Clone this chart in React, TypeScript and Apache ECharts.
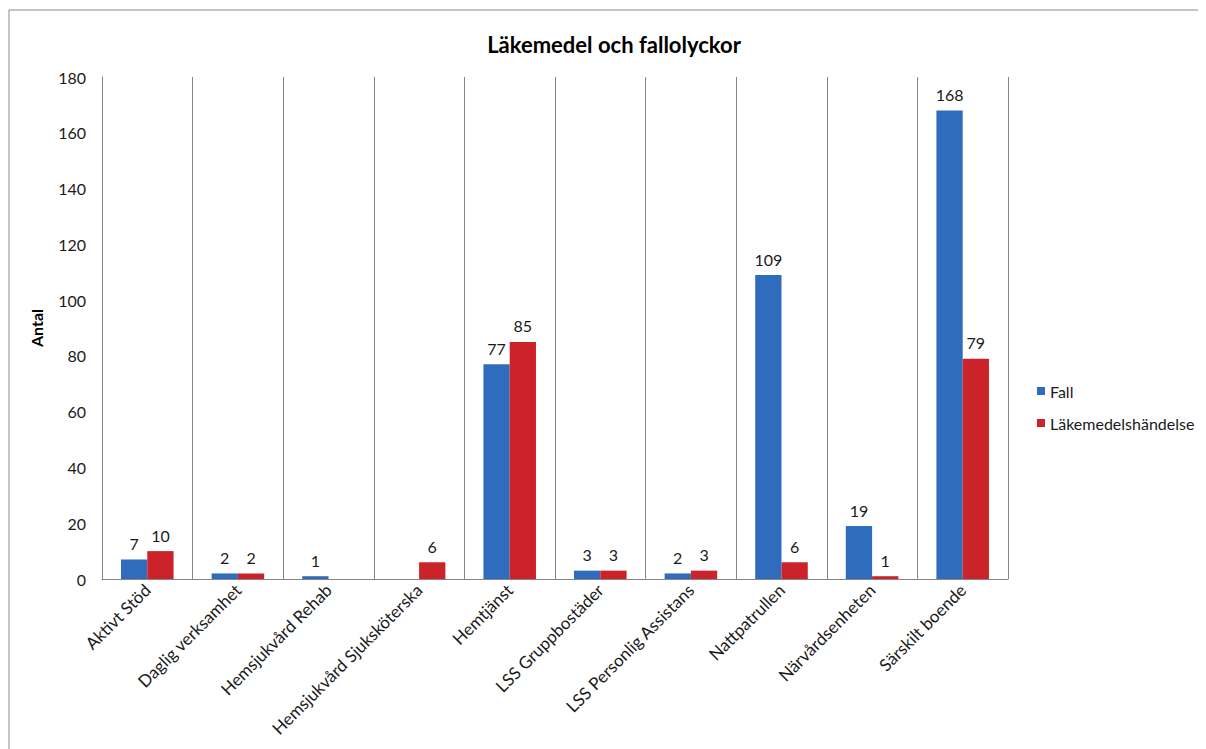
import React, { useEffect, useRef } from "react";
import * as echarts from "echarts";

const categories = [
  "Aktivt Stöd",
  "Daglig verksamhet",
  "Hemsjukvård Rehab",
  "Hemsjukvård Sjuksköterska",
  "Hemtjänst",
  "LSS Gruppbostäder",
  "LSS Personlig Assistans",
  "Nattpatrullen",
  "Närvårdsenheten",
  "Särskilt boende",
];
const fallValues = [7, 2, 1, 0, 77, 3, 2, 109, 19, 168];
const lakemedelValues = [10, 2, 0, 6, 85, 3, 3, 6, 1, 79];
const seriesNames = ["Fall", "Läkemedelshändelse"];
const titleText = "Läkemedel och fallolyckor";
const yAxisName = "Antal";

const FONT = "Lato, 'Open Sans', sans-serif";

export default function App() {
  const ref = useRef<HTMLDivElement>(null);
  useEffect(() => {
    if (!ref.current) return;
    const chart = echarts.init(ref.current, undefined, { renderer: "svg" });
    const labelCfg = {
      show: true,
      position: "top",
      distance: 8,
      fontFamily: FONT,
      fontSize: 16,
      color: "#1a1a1a",
      formatter: (p: any) => (p.value === 0 ? "" : String(p.value)),
    };
    chart.setOption({
      animation: false,
      backgroundColor: "#ffffff",
      textStyle: { fontFamily: FONT },
      graphic: [
        {
          type: "text",
          x: 606,
          y: 36,
          style: {
            text: titleText,
            textAlign: "center",
            textVerticalAlign: "middle",
            fontFamily: FONT,
            fontSize: 22,
            fontWeight: "bold",
            fill: "#000",
          },
        },
        {
          type: "line",
          shape: { x1: 1, y1: 2, x2: 1, y2: 741 },
          style: { stroke: "#8a8a8a", lineWidth: 1 },
        },
        {
          type: "line",
          shape: { x1: 1, y1: 2, x2: 1198, y2: 2 },
          style: { stroke: "#8a8a8a", lineWidth: 1 },
        },
      ],
      legend: {
        orient: "vertical",
        left: 1024,
        top: 370,
        itemWidth: 8,
        itemHeight: 8,
        itemGap: 16,
        icon: "rect",
        textStyle: { fontFamily: FONT, fontSize: 16, color: "#1a1a1a" },
        data: seriesNames,
      },
      grid: { left: 94, right: 198, top: 69, bottom: 170, containLabel: false },
      xAxis: {
        type: "category",
        data: categories,
        axisLine: { lineStyle: { color: "#868686" } },
        axisTick: { show: false },
        splitLine: { show: true, lineStyle: { color: "#868686", width: 1 } },
        axisLabel: {
          rotate: 45,
          interval: 0,
          margin: 8,
          fontFamily: FONT,
          fontSize: 17,
          color: "#1a1a1a",
        },
      },
      yAxis: {
        type: "value",
        min: 0,
        max: 180,
        interval: 20,
        name: yAxisName,
        nameLocation: "middle",
        nameGap: 58,
        nameRotate: 90,
        nameTextStyle: { fontFamily: FONT, fontSize: 16, fontWeight: "bold", color: "#000" },
        axisLine: { show: true, lineStyle: { color: "#868686" } },
        axisTick: { show: false },
        splitLine: { show: false },
        axisLabel: { margin: 16, fontFamily: FONT, fontSize: 16, color: "#1a1a1a" },
      },
      series: [
        {
          name: seriesNames[0],
          type: "bar",
          data: fallValues,
          barGap: "0%",
          barCategoryGap: "42%",
          itemStyle: { color: "#2f6cbd" },
          label: labelCfg,
        },
        {
          name: seriesNames[1],
          type: "bar",
          data: lakemedelValues,
          itemStyle: { color: "#cc2229" },
          label: labelCfg,
        },
      ],
    });
    return () => chart.dispose();
  }, []);
  return <div ref={ref} style={{ width: 1198, height: 741 }} />;
}
